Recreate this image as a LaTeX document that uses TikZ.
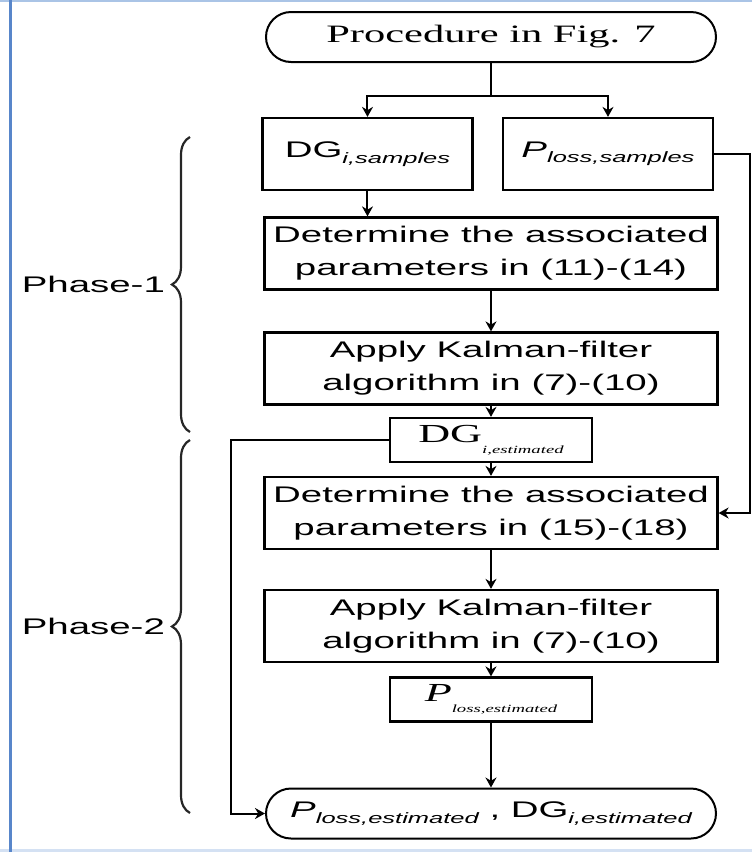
\documentclass[tikz,border=0pt]{standalone}
\usepackage{fontspec}
\setmainfont{Liberation Serif}
\newfontfamily\arialfont[FakeStretch=1.7]{Liberation Sans}
\newfontfamily\timesfont[FakeStretch=1.7]{Liberation Serif}
\usepackage{tikz}
\usetikzlibrary{arrows.meta,positioning,decorations.pathreplacing}
\usepackage{xcolor}
\definecolor{framedark}{RGB}{88,134,202}
\definecolor{framelight}{RGB}{170,196,230}
\newcommand{\lowsub}[1]{\raisebox{-0.45ex}{\fontsize{7.5}{8}\selectfont\itshape #1}}
\newcommand{\tinysub}[1]{\raisebox{-0.9ex}{\fontsize{5.5}{6}\selectfont\itshape #1}}

\begin{document}
\begin{tikzpicture}[>={Stealth[length=5pt,width=5.5pt]},node distance=2cm,on grid]
			\useasboundingbox (-245.5pt,-407.5pt) rectangle (130.5pt,18.5pt);
			\draw[framelight,line width=1pt] (-245.5pt,18pt) -- (130.5pt,18pt);
			\draw[framelight!50,line width=1.5pt] (-245.5pt,-406.5pt) -- (130.5pt,-406.5pt);
			\draw[framedark,line width=1.6pt] (-240.25pt,18.5pt) -- (-240.25pt,-407.5pt);

			\tikzset{term/.style={draw,line width=1pt,rounded corners=12.5pt,minimum width=225pt,minimum height=25pt,inner sep=0pt},
			  stepbox/.style={draw,line width=1.1pt,minimum width=226.5pt,minimum height=36pt,inner sep=0pt,align=center,font=\arialfont\fontsize{11.3}{16.5}\selectfont},
			  databox/.style={draw,line width=1.1pt,minimum width=105pt,minimum height=36pt,inner sep=0pt,font=\arialfont\fontsize{11.3}{12}\selectfont},
			  estbox/.style={draw,line width=1.1pt,minimum width=101pt,minimum height=22pt,inner sep=0pt,font=\timesfont\fontsize{13}{14}\selectfont},
			  link/.style={->,line width=1pt},
			  bracket/.style={decorate,decoration={brace,amplitude=9pt},line width=1.1pt,black!85},
			  phase/.style={anchor=east,font=\arialfont\fontsize{11.3}{12}\selectfont}}

			  \node[term,font=\timesfont\fontsize{12.5}{14}\selectfont] (start) at (0,0) {Procedure in Fig. 7};
			  \node[databox]        (dgs)  [below left =58.5pt and 61.75pt of start]  {DG\lowsub{i,samples}};
			  \node[databox]        (pls)  [below right =58.5pt and 58.5pt of start]  {\itshape P\lowsub{loss,samples}};
			  \node[stepbox]        (det1) [below =108.25pt of start] {Determine the associated\\parameters in (11)-(14)};
			  \node[stepbox]        (kal1) [below =57.5pt of det1]    {Apply Kalman-filter\\algorithm in (7)-(10)};
			  \node[estbox]         (dge)  [below =35.75pt of kal1]   {DG\tinysub{i,estimated}};
			  \node[stepbox]        (det2) [below =36.5pt of dge]     {Determine the associated\\parameters in (15)-(18)};
			  \node[stepbox]        (kal2) [below =56.5pt of det2]    {Apply Kalman-filter\\algorithm in (7)-(10)};
			  \node[estbox]         (ple)  [below =36.75pt of kal2]   {\itshape P\tinysub{loss,estimated}};
			  \node[term,font=\arialfont\fontsize{11.3}{12}\selectfont] (stop) [below =57pt of ple] {\itshape P\lowsub{loss,estimated} \upshape, DG\lowsub{i,estimated}};

			\draw[link] (start.south) -- ++(0,-16.5pt) coordinate (split) -| (dgs.north);
			\draw[link] (split) -| (pls.north);

			\path (dgs)    edge [link]    node   {} (dgs.south |- det1.north)
				  (det1)   edge [link]    node   {} (kal1)
				  (kal1)   edge [link]    node   {} (dge)
				  (dge)    edge [link]    node   {} (det2)
				  (det2)   edge [link]    node   {} (kal2)
				  (kal2)   edge [link]    node   {} (ple)
				  (ple)    edge [link]    node   {} (stop);

			\draw[link] (pls.east) -- ++(18pt,0) |- (det2.east);
			\draw[link] (dge.west) -- ++(-79pt,0) |- (stop.west);

			\coordinate (p1lo) at (-150.5pt,-197.5pt);
			\coordinate (p1hi) at (-150.5pt,-50pt);
			\coordinate (p2lo) at (-150.5pt,-388pt);
			\coordinate (p2hi) at (-150.5pt,-201.5pt);
			\draw[bracket] (p1lo) -- (p1hi);
			\draw[bracket] (p2lo) -- (p2hi);
			\path (p1lo) -- (p1hi) node[phase,pos=0.5,xshift=-9pt] (ph1) {Phase-1};
			\path (p2lo) -- (p2hi) node[phase,pos=0.5,xshift=-9pt] (ph2) {Phase-2};
		\end{tikzpicture}
\end{document}
